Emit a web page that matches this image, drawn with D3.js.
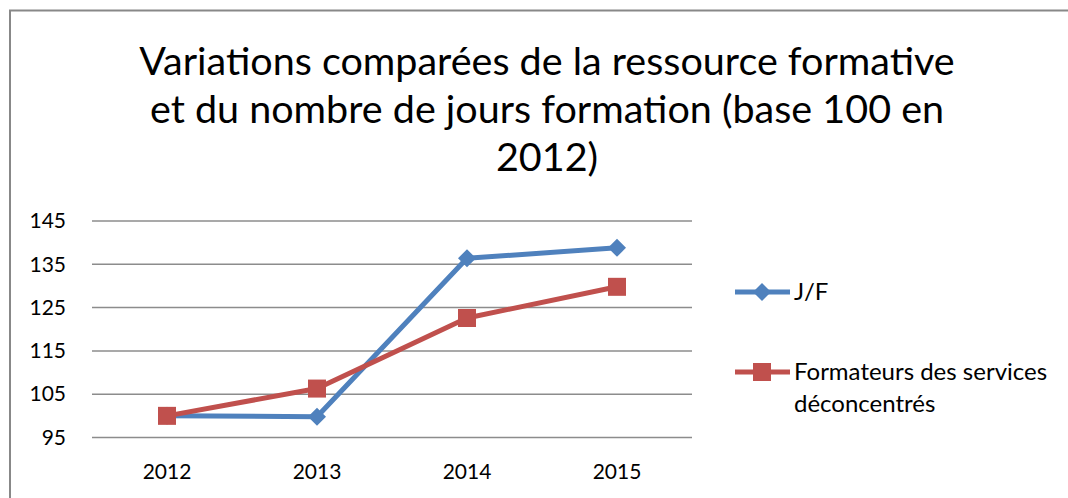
<!DOCTYPE html>
<html>
<head>
<meta charset="utf-8">
<script src="https://d3js.org/d3.v7.min.js"></script>
<style>
body { margin: 0; background: #fff; }
svg text { font-family: Lato, "Open Sans", sans-serif; fill: #000; }
</style>
</head>
<body>
<svg width="1068" height="498"></svg>
<script>
// data
var years = ["2012", "2013", "2014", "2015"];
var jfValues = [100, 99.8, 136.4, 138.8];
var formValues = [100, 106.3, 122.6, 129.8];
var yTicks = [95, 105, 115, 125, 135, 145];
var titleLines = ["Variations comparées de la ressource formative",
                  "et du nombre de jours formation (base 100 en",
                  "2012)"];

var series = [
  {name: ["J/F"], values: jfValues, color: "#4f81bd", shape: "diamond"},
  {name: ["Formateurs des services", "déconcentrés"], values: formValues, color: "#c0504d", shape: "square"}
];

var svg = d3.select("svg");

// outer frame (only left and top visible in the picture)
svg.append("path")
  .attr("d", "M10,510V10.5H1080")
  .attr("fill", "none")
  .attr("stroke", "#888")
  .attr("stroke-width", 2);

// title
svg.append("g").selectAll("text")
  .data(titleLines)
  .enter().append("text")
  .attr("x", 547)
  .attr("y", function(d, i) { return 75 + i * 48; })
  .attr("text-anchor", "middle")
  .style("font-size", "39.5px")
  .text(function(d) { return d; });

var x = d3.scaleBand().domain(years).range([92, 692]);
var y = d3.scaleLinear().domain([95, 145]).range([437.5, 221]);

// gridlines
svg.append("g").selectAll("line")
  .data(yTicks)
  .enter().append("line")
  .attr("x1", 92).attr("x2", 692)
  .attr("y1", function(d) { return y(d); })
  .attr("y2", function(d) { return y(d); })
  .attr("stroke", "#8c8c8c")
  .attr("stroke-width", 1.5);

// y axis
var yAxis = svg.append("g")
  .attr("transform", "translate(92,0)")
  .call(d3.axisLeft(y).tickValues(yTicks).tickSize(0).tickPadding(26));
yAxis.select(".domain").remove();
yAxis.selectAll("text").style("font-size", "21px").style("font-family", "Lato, sans-serif");

// x axis
var xAxis = svg.append("g")
  .attr("transform", "translate(0," + y(95) + ")")
  .call(d3.axisBottom(x).tickSize(0).tickPadding(27));
xAxis.select(".domain").remove();
xAxis.selectAll("text").style("font-size", "21px").style("font-family", "Lato, sans-serif");

var line = d3.line()
  .x(function(d, i) { return x(years[i]) + x.bandwidth() / 2; })
  .y(function(d) { return y(d); });

function drawMarker(g, shape, color, cx, cy) {
  if (shape === "diamond") {
    g.append("path")
      .attr("d", "M" + cx + "," + (cy - 9) + "L" + (cx + 9) + "," + cy + "L" + cx + "," + (cy + 9) + "L" + (cx - 9) + "," + cy + "Z")
      .attr("fill", color);
  } else {
    g.append("rect")
      .attr("x", cx - 9).attr("y", cy - 9)
      .attr("width", 18).attr("height", 18)
      .attr("fill", color);
  }
}

series.forEach(function(s) {
  var g = svg.append("g");
  g.append("path")
    .datum(s.values)
    .attr("d", line)
    .attr("fill", "none")
    .attr("stroke", s.color)
    .attr("stroke-width", 5)
    .attr("stroke-linejoin", "round");
  s.values.forEach(function(v, i) {
    drawMarker(g, s.shape, s.color, x(years[i]) + x.bandwidth() / 2, y(v));
  });
});

// legend
var legendY = [292, 372];
series.forEach(function(s, i) {
  var g = svg.append("g");
  g.append("line")
    .attr("x1", 735).attr("x2", 790)
    .attr("y1", legendY[i]).attr("y2", legendY[i])
    .attr("stroke", s.color)
    .attr("stroke-width", 5);
  drawMarker(g, s.shape, s.color, 762, legendY[i]);
  g.selectAll("text")
    .data(s.name)
    .enter().append("text")
    .attr("x", 794)
    .attr("y", function(d, j) { return legendY[i] + 8 + j * 32; })
    .style("font-size", "24px")
    .text(function(d) { return d; });
});
</script>
</body>
</html>
